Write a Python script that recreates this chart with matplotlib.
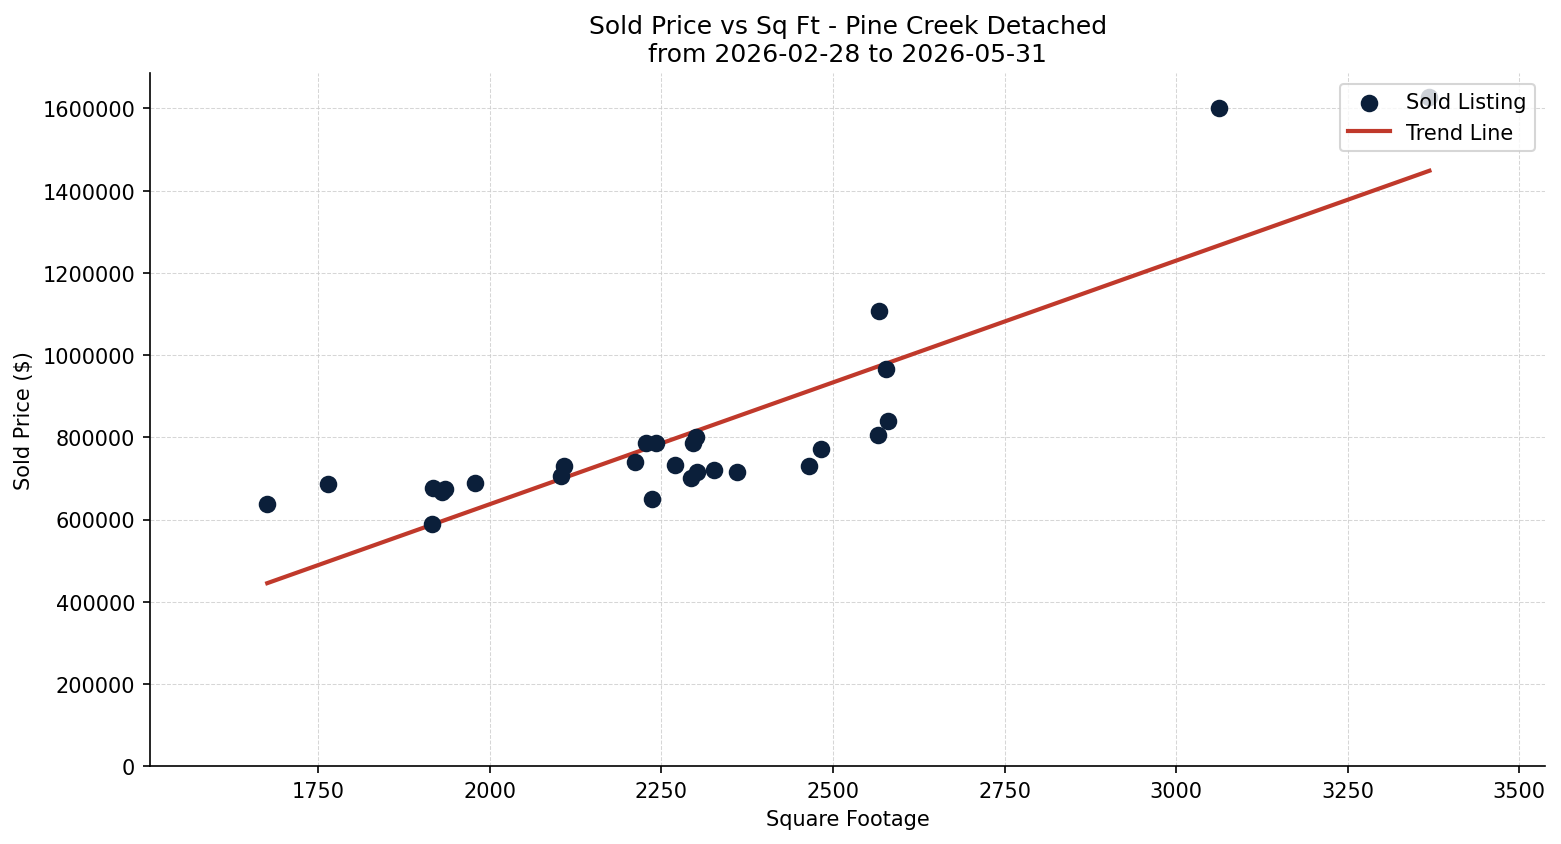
import matplotlib
matplotlib.use("Agg")
import matplotlib.pyplot as plt
import numpy as np

# Sold listings: square footage and sold price
sqft = [1676, 1765, 1917, 1930, 1935, 1916, 1979, 2104, 2108, 2211,
        2228, 2242, 2236, 2270, 2296, 2300, 2293, 2302, 2327, 2361,
        2465, 2482, 2565, 2581, 2567, 2577, 3062, 3369]
price = [637000, 686000, 676000, 666000, 674000, 588000, 690000, 705000, 730000, 739000,
         785000, 785000, 649000, 732000, 785000, 800000, 700000, 715000, 720000, 715000,
         730000, 771000, 805000, 839000, 1106000, 965000, 1600000, 1627000]

x = np.array(sqft)
y = np.array(price)

fig, ax = plt.subplots(figsize=(10.407, 5.633), dpi=150)
fig.subplots_adjust(left=0.096, right=0.990, top=0.912, bottom=0.092)

ax.scatter(x, y, s=55, color='#0b1f3a', label='Sold Listing', zorder=3)

# Linear trend
m, b = np.polyfit(x, y, 1)
xs = np.array([x.min(), x.max()])
ax.plot(xs, m * xs + b, color='#c0392b', linewidth=2, label='Trend Line', zorder=2)

ax.set_xlim(1505, 3538)
ax.set_ylim(0, 1685000)
ax.ticklabel_format(style='plain', axis='y')

ax.set_title('Sold Price vs Sq Ft - Pine Creek Detached\nfrom 2026-02-28 to 2026-05-31', fontsize=12)
ax.set_xlabel('Square Footage')
ax.set_ylabel('Sold Price ($)')

ax.grid(True, linestyle='--', color='#cccccc', linewidth=0.5, alpha=0.8)
ax.spines['top'].set_visible(False)
ax.spines['right'].set_visible(False)
ax.legend(loc='upper right')

fig.savefig('out.png', dpi=150)
